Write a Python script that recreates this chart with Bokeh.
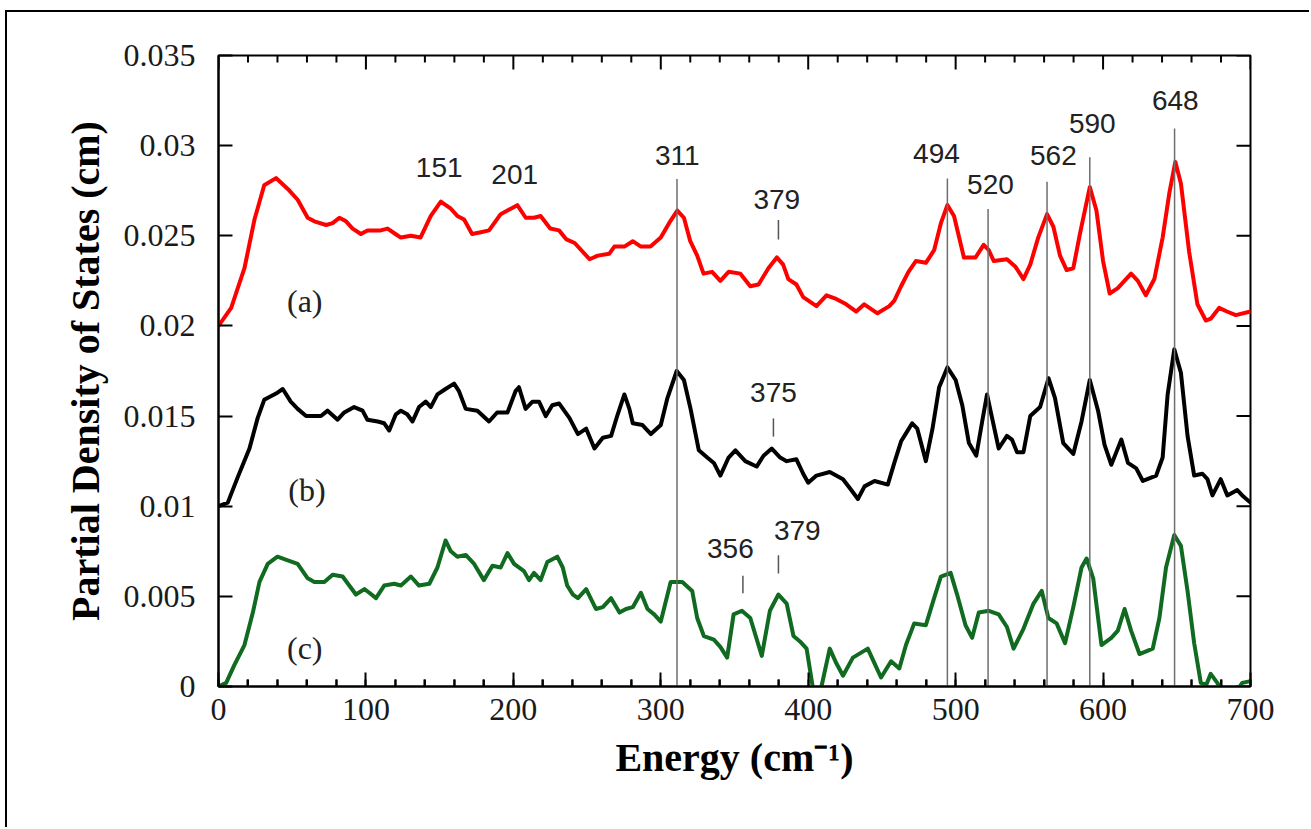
from bokeh.plotting import figure
from bokeh.models import Range1d, FixedTicker, SingleIntervalTicker
from bokeh.core.properties import value
from bokeh.embed import file_html
from bokeh.resources import INLINE

# ---------------- data ----------------
curve_a = [(0, 0.0200), (8.6, 0.0210), (17.6, 0.0232), (24.4, 0.0259), (31, 0.0278), (39, 0.0282),
           (47, 0.0276), (53.7, 0.0270), (60.5, 0.0260), (65, 0.0258), (73, 0.0256), (77.4, 0.0257),
           (82, 0.0260), (86.5, 0.0258), (91, 0.0254), (96.6, 0.0251), (101, 0.0253), (106.8, 0.0253),
           (110, 0.0253), (114.7, 0.0254), (120, 0.0251), (123.7, 0.0249), (130.5, 0.0250), (137, 0.0249),
           (144, 0.0261), (150.8, 0.0269), (157.6, 0.0265), (162, 0.0261), (166.6, 0.0259), (172, 0.0251),
           (178, 0.0252), (183.5, 0.0253), (191.4, 0.0262), (196, 0.0264), (202.7, 0.0267), (208.4, 0.0260),
           (214, 0.0260), (218.5, 0.0261), (225, 0.0254), (231, 0.0253), (236, 0.0248), (241.6, 0.0246),
           (251.7, 0.0237), (257.3, 0.0239), (265, 0.0240), (268.5, 0.0244), (275.3, 0.0244), (281, 0.0247),
           (286.5, 0.0244), (293, 0.0244), (300, 0.0249), (305.6, 0.0257), (311.2, 0.0264), (315.7, 0.0260),
           (320, 0.0247), (324.7, 0.0239), (329, 0.0229), (334.8, 0.0230), (340.4, 0.0225), (346, 0.0230),
           (354, 0.0229), (360.7, 0.0222), (366.3, 0.0223), (373, 0.0232), (378.7, 0.0238), (383, 0.0234),
           (386.5, 0.0226), (392, 0.0223), (396.6, 0.0216), (405.6, 0.0211), (412.4, 0.0217), (419, 0.0215),
           (425.8, 0.0212), (432.6, 0.0208), (438, 0.0212), (447, 0.0207), (455, 0.0211), (458.4, 0.0214),
           (463, 0.0222), (468, 0.0230), (473, 0.0236), (479.8, 0.0235), (485.4, 0.0242), (490, 0.0257),
           (494.4, 0.0267), (498.9, 0.0261), (505.6, 0.0238), (513.5, 0.0238), (519, 0.0245), (522.5, 0.0242),
           (525.8, 0.0236), (534.8, 0.0237), (540.4, 0.0233), (546, 0.0226), (550.6, 0.0234), (556, 0.0249),
           (562, 0.0262), (566.3, 0.0255), (570.8, 0.0239), (575.3, 0.0231), (579.8, 0.0232), (584.3, 0.0251),
           (591, 0.0277), (595.5, 0.0264), (600, 0.0236), (604.5, 0.0218), (610, 0.0221), (619, 0.0229),
           (623.6, 0.0225), (629, 0.0217), (634.8, 0.0226), (640.4, 0.0249), (645, 0.0274), (649, 0.0291),
           (652.8, 0.0279), (658.4, 0.0241), (664, 0.0212), (669.7, 0.0203), (673, 0.0204), (678.7, 0.0210),
           (684, 0.0208), (690, 0.0206), (700, 0.0208)]

curve_b = [(0, 0.0100), (6.3, 0.0102), (13, 0.0116), (21, 0.0132), (26.6, 0.0149), (31, 0.0159), (40, 0.0163),
           (43.6, 0.0165), (49, 0.0158), (53.7, 0.0154), (59.4, 0.0150), (69.5, 0.0150), (74, 0.0153),
           (80.8, 0.0148), (85.3, 0.0152), (92, 0.0155), (97.7, 0.0153), (101, 0.0148), (108, 0.0147),
           (112.4, 0.0146), (115.8, 0.0142), (120.3, 0.0151), (123.7, 0.0153), (128, 0.0151), (131.6, 0.0147),
           (136, 0.0155), (140.6, 0.0158), (144, 0.0155), (148.5, 0.0162), (154, 0.0165), (159.8, 0.0168),
           (163, 0.0164), (167.7, 0.0154), (175.6, 0.0153), (183.5, 0.0147), (189, 0.0152), (196, 0.0152),
           (201.6, 0.0164), (203.8, 0.0166), (208.3, 0.0154), (213, 0.0158), (217.4, 0.0158), (222, 0.0150),
           (226.4, 0.0156), (231, 0.0157), (238, 0.0149), (243.8, 0.0140), (249.4, 0.0143), (255, 0.0132),
           (260.7, 0.0138), (266.3, 0.0139), (270.8, 0.0151), (275.3, 0.0162), (278.7, 0.0154), (281, 0.0146),
           (287.6, 0.0145), (293.3, 0.0140), (300, 0.0145), (304.5, 0.0160), (310.8, 0.0175), (315.7, 0.0170),
           (320.2, 0.0154), (325.8, 0.0131), (331.5, 0.0127), (336, 0.0124), (340.4, 0.0117), (346, 0.0127),
           (350.6, 0.0131), (357.3, 0.0125), (365, 0.0122), (369.7, 0.0128), (375.3, 0.0132), (381, 0.0127),
           (385.4, 0.0125), (392, 0.0126), (396.6, 0.0118), (400, 0.0113), (405.6, 0.0117), (414.6, 0.0119),
           (423.6, 0.0115), (429.2, 0.0109), (433.7, 0.0104), (438.2, 0.0111), (445, 0.0114), (454, 0.0112),
           (458.4, 0.0124), (463, 0.0136), (466, 0.0140), (470.5, 0.0146), (474, 0.0143), (479.8, 0.0125),
           (484.3, 0.0143), (488.8, 0.0166), (494.4, 0.0177), (500, 0.0170), (504.5, 0.0156), (509, 0.0135),
           (514, 0.0128), (518, 0.0147), (521.3, 0.0162), (524.7, 0.0149), (529.2, 0.0132), (534.8, 0.0139),
           (538.2, 0.0137), (541.6, 0.0130), (546, 0.0130), (550.6, 0.0150), (557.3, 0.0155), (563, 0.0171),
           (567.4, 0.0160), (573, 0.0135), (579.8, 0.0129), (585.4, 0.0147), (591, 0.0170), (596.6, 0.0153),
           (601, 0.0134), (605.6, 0.0123), (609, 0.0130), (612.4, 0.0137), (616.9, 0.0124), (622.5, 0.0121),
           (627, 0.0114), (636, 0.0117), (640.4, 0.0127), (643.8, 0.0162), (648.3, 0.0187), (652.8, 0.0174),
           (657.3, 0.0139), (661.8, 0.0117), (667.4, 0.0118), (670.8, 0.0115), (674.2, 0.0106), (679.8, 0.0115),
           (684.3, 0.0106), (691, 0.0109), (694.4, 0.0106), (700, 0.0102)]

curve_c = [(0, 0.0000), (5.2, 0.0002), (10.8, 0.0012), (17.6, 0.0023), (23.3, 0.0041), (27.8, 0.0058),
           (33.4, 0.0068), (40, 0.0072), (47, 0.0070), (53.7, 0.0068), (60.5, 0.0060), (65, 0.0058),
           (71.8, 0.0058), (77.4, 0.0062), (84.2, 0.0061), (88.7, 0.0056), (93.2, 0.0051), (99, 0.0054),
           (102.3, 0.0052), (106.8, 0.0049), (112.4, 0.0056), (119.2, 0.0057), (123.7, 0.0056), (130.5, 0.0061),
           (136, 0.0056), (143, 0.0057), (148.5, 0.0066), (154, 0.0081), (157.6, 0.0075), (162, 0.0072),
           (167.7, 0.0073), (173.4, 0.0068), (180, 0.0059), (185.8, 0.0067), (191.4, 0.0066), (196, 0.0074),
           (200.5, 0.0068), (207.2, 0.0064), (210.6, 0.0059), (214, 0.0063), (218.5, 0.0059), (223, 0.0069),
           (229.8, 0.0072), (233.5, 0.0066), (236.5, 0.0056), (240.4, 0.0051), (243.8, 0.0049), (249.4, 0.0054),
           (256, 0.0043), (260.7, 0.0044), (266.3, 0.0049), (272, 0.0041), (276.4, 0.0043), (281, 0.0044),
           (286.5, 0.0052), (291, 0.0043), (295.5, 0.0040), (300, 0.0036), (306.7, 0.0058), (314.6, 0.0058),
           (321.3, 0.0053), (324.7, 0.0038), (329.2, 0.0028), (336, 0.0026), (340.4, 0.0022), (345, 0.0016),
           (349.4, 0.0040), (355, 0.0042), (360.7, 0.0038), (368.5, 0.0017), (374, 0.0042), (379.8, 0.0051),
           (385.4, 0.0046), (390, 0.0028), (394.4, 0.0025), (398.9, 0.0021), (403.4, -0.0002), (406, -0.0008),
           (409, 0.0000), (414.6, 0.0021), (419, 0.0013), (423.6, 0.0006), (430.3, 0.0016), (440.4, 0.0021),
           (444.9, 0.0013), (449.4, 0.0005), (456.2, 0.0014), (461.8, 0.0010), (466.3, 0.0023), (471.9, 0.0035),
           (479.8, 0.0034), (485.4, 0.0049), (490, 0.0061), (496.6, 0.0063), (501, 0.0051), (506.7, 0.0034),
           (511.2, 0.0027), (515.7, 0.0041), (522.5, 0.0042), (529.2, 0.0040), (534.8, 0.0033), (539.3, 0.0021),
           (546, 0.0032), (552.8, 0.0046), (558.4, 0.0053), (562.9, 0.0038), (568.5, 0.0035), (574.2, 0.0024),
           (579.8, 0.0044), (585.4, 0.0066), (588.8, 0.0071), (593.3, 0.0060), (598.9, 0.0023), (605.6, 0.0027),
           (610, 0.0031), (614.6, 0.0043), (619, 0.0031), (624.7, 0.0018), (633.7, 0.0021), (638.2, 0.0038),
           (642.7, 0.0066), (648.3, 0.0084), (652.8, 0.0078), (657.3, 0.0053), (661.8, 0.0024), (666.3, 0.0002),
           (670, 0.0001), (673, 0.0007), (677.5, 0.0002), (682, -0.0004), (687.6, -0.0006), (694.4, 0.0002),
           (700, 0.0003)]

series_names = ["(a)", "(b)", "(c)"]

x_ticks = [0, 100, 200, 300, 400, 500, 600, 700]
x_tick_labels = ["0", "100", "200", "300", "400", "500", "600", "700"]
x_minor_ticks = [20, 40, 60, 80, 120, 140, 160, 180, 220, 240, 260, 280, 320, 340, 360, 380,
                 420, 440, 460, 480, 520, 540, 560, 580, 620, 640, 660, 680]
y_ticks = [0, 0.005, 0.01, 0.015, 0.02, 0.025, 0.03, 0.035]
y_tick_labels = ["0", "0.005", "0.01", "0.015", "0.02", "0.025", "0.03", "0.035"]

# peak guide lines running down to the axis
guide_x = [311, 494.4, 522, 562, 591, 648.5]
guide_top = [0.02815, 0.02818, 0.02648, 0.0280, 0.02936, 0.03095]
# short peak markers
marker_x = [379.8, 376.4, 355.7, 379.8]
marker_y0 = [0.0248, 0.01386, 0.00517, 0.00627]
marker_y1 = [0.02587, 0.01487, 0.00614, 0.00728]
# peak labels
peak_text = ["151", "201", "311", "379", "494", "520", "562", "590", "648", "375", "356", "379"]
peak_x = [149.7, 200.9, 311.2, 378.7, 487, 523.6, 566.3, 592.7, 649, 376.4, 347.2, 392.6]
peak_y = [0.02876, 0.02842, 0.02945, 0.02703, 0.02958, 0.02784, 0.02945, 0.03121, 0.0325, 0.01631, 0.00767, 0.00865]

# ---------------- figure ----------------
SERIF = "Liberation Serif"
SANS = "Liberation Sans"
X0, X1, Y0, Y1 = 0, 700, 0, 0.035
FRAME_W, FRAME_H = 1032, 631          # pixels of the plotting frame
PX_X = (X1 - X0) / FRAME_W            # data units per pixel
PX_Y = (Y1 - Y0) / FRAME_H

p = figure(width=1304, height=817, margin=(12, 0, 0, 7),
           x_range=Range1d(X0, X1), y_range=Range1d(Y0, Y1),
           output_backend="svg", toolbar_location=None,
           min_border_left=211, min_border_right=61, min_border_top=43, min_border_bottom=143,
           background_fill_color="white", border_fill_color="white")
p.styles = {"box-shadow": "-2px -2px 0 0 #000"}
p.xgrid.visible = False
p.ygrid.visible = False
p.outline_line_color = "black"
p.outline_line_width = 2

xb = p.xaxis[0]
yl = p.yaxis[0]
for ax in (xb, yl):
    ax.axis_line_color = "black"
    ax.axis_line_width = 2
    ax.major_tick_in = 14
    ax.major_tick_out = 0
    ax.major_tick_line_width = 2
    ax.major_tick_line_color = "black"
    ax.major_label_text_font = SERIF
    ax.major_label_text_font_size = "32px"
    ax.major_label_text_color = "#1a1a1a"

xb.ticker = SingleIntervalTicker(interval=100, num_minor_ticks=5)
xb.minor_tick_in = 7
xb.minor_tick_out = 0
xb.minor_tick_line_width = 2
xb.minor_tick_line_color = "black"
xb.major_label_overrides = dict(zip(x_ticks, x_tick_labels))
xb.major_label_standoff = 12

yl.ticker = FixedTicker(ticks=y_ticks)
yl.minor_tick_line_color = None
yl.major_label_overrides = dict(zip(y_ticks, y_tick_labels))
yl.major_label_standoff = 23

yl.axis_label = "Partial Density of States (cm)"
yl.axis_label_text_font = SERIF
yl.axis_label_text_font_size = "40px"
yl.axis_label_text_font_style = "bold"
yl.axis_label_text_color = "black"
yl.axis_label_standoff = 13

xb.axis_label = "Energy (cm\u207b\u00b9)"
xb.axis_label_text_font = SERIF
xb.axis_label_text_font_size = "40px"
xb.axis_label_text_font_style = "bold"
xb.axis_label_text_color = "black"
xb.axis_label_standoff = 12

# minor ticks on the bottom edge, and mirrored ticks on the top and right edges of the frame
p.segment(x0=x_minor_ticks, y0=[Y0] * len(x_minor_ticks), x1=x_minor_ticks,
          y1=[Y0 + 7 * PX_Y] * len(x_minor_ticks), line_color="black", line_width=2)
p.segment(x0=x_ticks, y0=[Y1] * len(x_ticks), x1=x_ticks, y1=[Y1 - 14 * PX_Y] * len(x_ticks),
          line_color="black", line_width=2)
p.segment(x0=x_minor_ticks, y0=[Y1] * len(x_minor_ticks), x1=x_minor_ticks,
          y1=[Y1 - 7 * PX_Y] * len(x_minor_ticks), line_color="black", line_width=2)
p.segment(x0=[X1] * len(y_ticks), y0=y_ticks, x1=[X1 - 14 * PX_X] * len(y_ticks), y1=y_ticks,
          line_color="black", line_width=2)

# curves
colors = ["#ff0000", "#000000", "#106a20"]
for curve, col in zip([curve_a, curve_b, curve_c], colors):
    xs = [pt[0] for pt in curve]
    ys = [pt[1] for pt in curve]
    p.line(xs, ys, line_color=col, line_width=4, line_join="round", line_cap="round")

# guide lines and markers
p.segment(x0=guide_x, y0=[0] * len(guide_x), x1=guide_x, y1=guide_top,
          line_color="#6e6e6e", line_width=1.5)
p.segment(x0=marker_x, y0=marker_y0, x1=marker_x, y1=marker_y1,
          line_color="#555555", line_width=1.5)

# peak labels
p.text(x=peak_x, y=peak_y, text=peak_text, text_font=value(SANS), text_font_size="28px",
       text_align="center", text_baseline="middle", text_color="#222222")

# series labels
p.text(x=[58.5, 60, 58.5], y=[0.0214, 0.0109, 0.00215], text=series_names,
       text_font=value(SERIF), text_font_size="32px",
       text_align="center", text_baseline="middle", text_color="#222222")

open("out.html", "w").write(file_html(p, INLINE))
